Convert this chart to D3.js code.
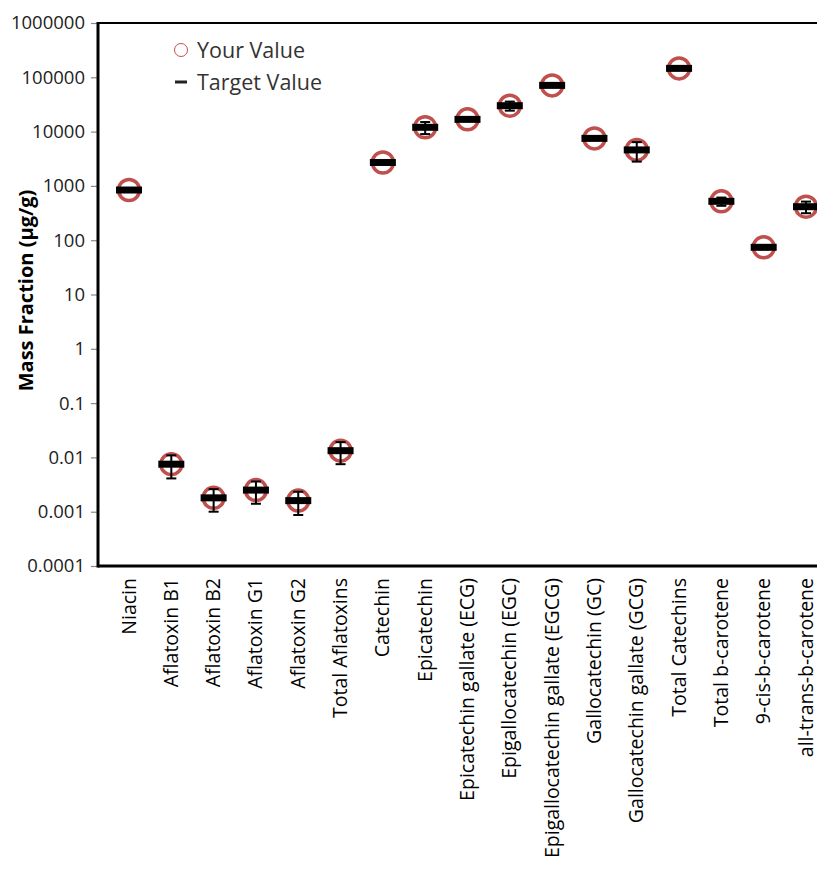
<!DOCTYPE html>
<html>
<head>
<meta charset="utf-8">
<script src="https://cdn.jsdelivr.net/npm/d3@7"></script>
<style>
  body { margin: 0; background: #fff; }
  svg text { font-family: "Open Sans", "DejaVu Sans", sans-serif; }
</style>
</head>
<body>
<svg id="chart" width="817" height="879"></svg>
<script>
// analytes along the x axis
const categories = [
  "Niacin", "Aflatoxin B1", "Aflatoxin B2", "Aflatoxin G1", "Aflatoxin G2",
  "Total Aflatoxins", "Catechin", "Epicatechin", "Epicatechin gallate (ECG)",
  "Epigallocatechin (EGC)", "Epigallocatechin gallate (EGCG)", "Gallocatechin (GC)",
  "Gallocatechin gallate (GCG)", "Total Catechins", "Total b-carotene",
  "9-cis-b-carotene", "all-trans-b-carotene"
];

// participant result (circles), ug/g
const yourValues = [
  840, 0.0075, 0.0018, 0.0025, 0.0016,
  0.0133, 2700, 12000, 16800,
  30000, 71000, 7500,
  4600, 146000, 520,
  74, 414
];

// certified target (dashes), ug/g
const targetValues = [
  840, 0.0075, 0.0018, 0.0025, 0.0016,
  0.0133, 2700, 12000, 16800,
  30000, 71000, 7500,
  4600, 146000, 520,
  74, 414
];

// expanded uncertainty on the target, ug/g
const targetUnc = [
  60, 0.0034, 0.0008, 0.0011, 0.00073,
  0.0058, 150, 3000, 1200,
  5700, 4000, 500,
  1800, 8000, 90,
  6, 100
];

const yTicks = [1e6, 1e5, 1e4, 1e3, 100, 10, 1, 0.1, 0.01, 0.001, 0.0001];
const yTickLabels = ["1000000", "100000", "10000", "1000", "100", "10", "1", "0.1", "0.01", "0.001", "0.0001"];

const svg = d3.select("#chart");

const AX = { LEFT: 98, TOP: 23, BOTTOM: 566, RIGHT: 817 };
const RED = "#c0504d";

const x = d3.scalePoint().domain(categories).range([129, 806]);
const y = d3.scaleLog().domain([0.0001, 1e6]).range([AX.BOTTOM, AX.TOP]);

const rows = categories.map((c, i) => ({
  cat: c, your: yourValues[i], target: targetValues[i], unc: targetUnc[i]
}));

// y axis with log ticks
const yAxis = d3.axisLeft(y)
  .tickValues(yTicks)
  .tickFormat((d, i) => yTickLabels[i])
  .tickSize(7)
  .tickPadding(6);

const gy = svg.append("g")
  .attr("transform", `translate(${AX.LEFT},0)`)
  .call(yAxis);
gy.select(".domain").remove();
gy.selectAll(".tick line").attr("stroke", "#888").attr("stroke-width", 1.2);
gy.selectAll(".tick text")
  .attr("font-size", 18.5)
  .attr("fill", "#222");

// frame lines
svg.append("line")
  .attr("x1", AX.LEFT).attr("x2", AX.RIGHT)
  .attr("y1", AX.TOP).attr("y2", AX.TOP)
  .attr("stroke", "#000").attr("stroke-width", 2);
svg.append("line")
  .attr("x1", AX.LEFT).attr("x2", AX.LEFT)
  .attr("y1", AX.TOP - 1).attr("y2", AX.BOTTOM + 1.5)
  .attr("stroke", "#000").attr("stroke-width", 3);
svg.append("line")
  .attr("x1", AX.LEFT).attr("x2", AX.RIGHT)
  .attr("y1", AX.BOTTOM).attr("y2", AX.BOTTOM)
  .attr("stroke", "#000").attr("stroke-width", 3);

// axis title
svg.append("text")
  .attr("transform", `translate(33,${(AX.TOP + AX.BOTTOM) / 2 - 4}) rotate(-90)`)
  .attr("text-anchor", "middle")
  .attr("font-size", 20)
  .attr("font-weight", "bold")
  .attr("fill", "#000")
  .text("Mass Fraction (\u03bcg/g)");

// category labels, rotated
svg.append("g")
  .selectAll("text")
  .data(categories)
  .enter()
  .append("text")
  .attr("transform", (d) => `translate(${x(d) + 6.5},578) rotate(-90)`)
  .attr("text-anchor", "end")
  .attr("font-size", 19.5)
  .attr("fill", "#000")
  .text((d) => d);

const marks = svg.append("g");

// your value circles
marks.selectAll("circle.your")
  .data(rows)
  .enter()
  .append("circle")
  .attr("class", "your")
  .attr("cx", (d) => x(d.cat))
  .attr("cy", (d) => y(d.your))
  .attr("r", 10.5)
  .attr("fill", "none")
  .attr("stroke", RED)
  .attr("stroke-width", 3.5);

// target value dashes
marks.selectAll("rect.target")
  .data(rows)
  .enter()
  .append("rect")
  .attr("class", "target")
  .attr("x", (d) => x(d.cat) - 13)
  .attr("y", (d) => y(d.target) - 3.5)
  .attr("width", 26)
  .attr("height", 7)
  .attr("fill", "#000");

// uncertainty bars on target
const eb = marks.selectAll("g.err")
  .data(rows)
  .enter()
  .append("g")
  .attr("class", "err")
  .attr("stroke", "#000")
  .attr("stroke-width", 2);

eb.append("line")
  .attr("x1", (d) => x(d.cat)).attr("x2", (d) => x(d.cat))
  .attr("y1", (d) => y(d.target + d.unc))
  .attr("y2", (d) => y(d.target - d.unc));
eb.append("line")
  .attr("x1", (d) => x(d.cat) - 5).attr("x2", (d) => x(d.cat) + 5)
  .attr("y1", (d) => y(d.target + d.unc))
  .attr("y2", (d) => y(d.target + d.unc));
eb.append("line")
  .attr("x1", (d) => x(d.cat) - 5).attr("x2", (d) => x(d.cat) + 5)
  .attr("y1", (d) => y(d.target - d.unc))
  .attr("y2", (d) => y(d.target - d.unc));

// legend
const legend = svg.append("g").attr("transform", "translate(181,50)");
legend.append("circle")
  .attr("cx", 0).attr("cy", 0).attr("r", 6.5)
  .attr("fill", "none")
  .attr("stroke", RED)
  .attr("stroke-width", 1);
legend.append("text")
  .attr("x", 16).attr("y", 7.5)
  .attr("font-size", 21.5)
  .attr("fill", "#333")
  .text("Your Value");
legend.append("line")
  .attr("x1", -6).attr("x2", 6)
  .attr("y1", 32).attr("y2", 32)
  .attr("stroke", "#222")
  .attr("stroke-width", 3);
legend.append("text")
  .attr("x", 16).attr("y", 39.5)
  .attr("font-size", 21.5)
  .attr("fill", "#333")
  .text("Target Value");
</script>
</body>
</html>
